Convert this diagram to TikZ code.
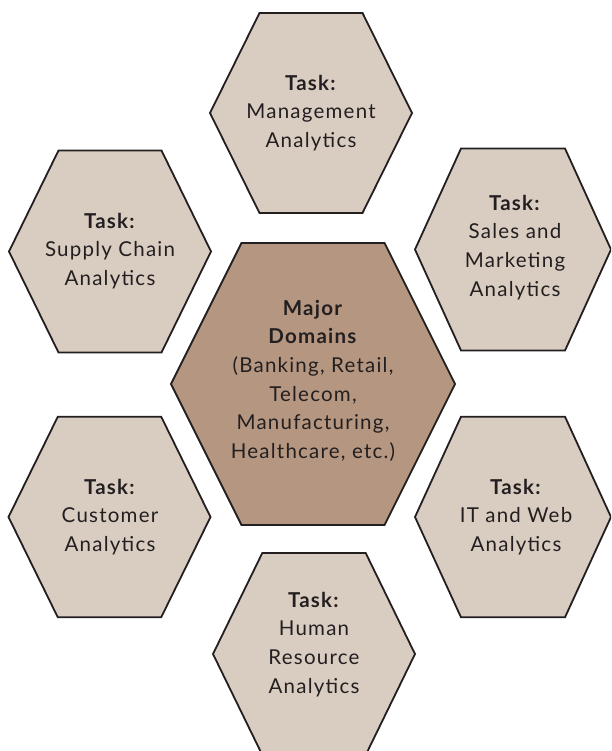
\documentclass[tikz,border=0pt]{standalone}
\usepackage{fontspec}
\setmainfont{Lato}[LetterSpace=6]
\definecolor{tasklight}{RGB}{217,205,194}
\definecolor{domaindark}{RGB}{181,150,128}
\definecolor{ink}{RGB}{35,31,32}

% hexagon with pointed left/right ends: centre, half width, half top edge, half height
\newcommand\hexcell[6]{%
  \draw[hexline, fill=#6, shift={(#1,#2)}]
    (-#3,0) -- (-#4,-#5) -- (#4,-#5) -- (#3,0) -- (#4,#5) -- (-#4,#5) -- cycle;}

\tikzset{
  hexline/.style={draw=ink, line width=1.8pt, line join=miter},
  hextext/.style={align=center, anchor=north, inner sep=0pt, text=ink,
    font=\fontsize{20.5}{28.6}\selectfont},
}

\begin{document}
\begin{tikzpicture}[x=1pt, y=-1pt]
  \useasboundingbox (0,0) rectangle (611,751);
  \clip (0,0) rectangle (611,751);

  % outer ring of task cells
  \hexcell{311}{113}{101}{51.5}{100}{tasklight}
  \hexcell{110}{251.5}{101}{51.5}{101}{tasklight}
  \hexcell{513}{249.5}{98}{52}{101}{tasklight}
  \hexcell{109.5}{517}{101}{51.7}{100.3}{tasklight}
  \hexcell{513}{517}{98}{52}{100.3}{tasklight}
  \hexcell{314}{654}{101}{51.7}{101}{tasklight}
  % central domain cell
  \hexcell{313}{384}{142}{71.5}{141}{domaindark}

  \node[hextext] (mgmt) at (311,70)
    {\rule{0pt}{20pt}\textbf{Task:}\\Management\\Analytics};
  \node[hextext] (supply) at (110,208)
    {\rule{0pt}{20pt}\textbf{Task:}\\Supply Chain\\Analytics};
  \node[hextext] (sales) at (515,190)
    {\rule{0pt}{20pt}\textbf{Task:}\\Sales and\\Marketing\\Analytics};
  \node[hextext] (domains) at (313,295)
    {\rule{0pt}{20pt}\textbf{Major}\\\textbf{Domains}\\(Banking, Retail,\\Telecom,\\Manufacturing,\\Healthcare, etc.)};
  \node[hextext] (customer) at (110,474)
    {\rule{0pt}{20pt}\textbf{Task:}\\Customer\\Analytics};
  \node[hextext] (itweb) at (516,474)
    {\rule{0pt}{20pt}\textbf{Task:}\\IT and Web\\Analytics};
  \node[hextext] (hr) at (314,587)
    {\rule{0pt}{20pt}\textbf{Task:}\\Human\\Resource\\Analytics};
\end{tikzpicture}
\end{document}
